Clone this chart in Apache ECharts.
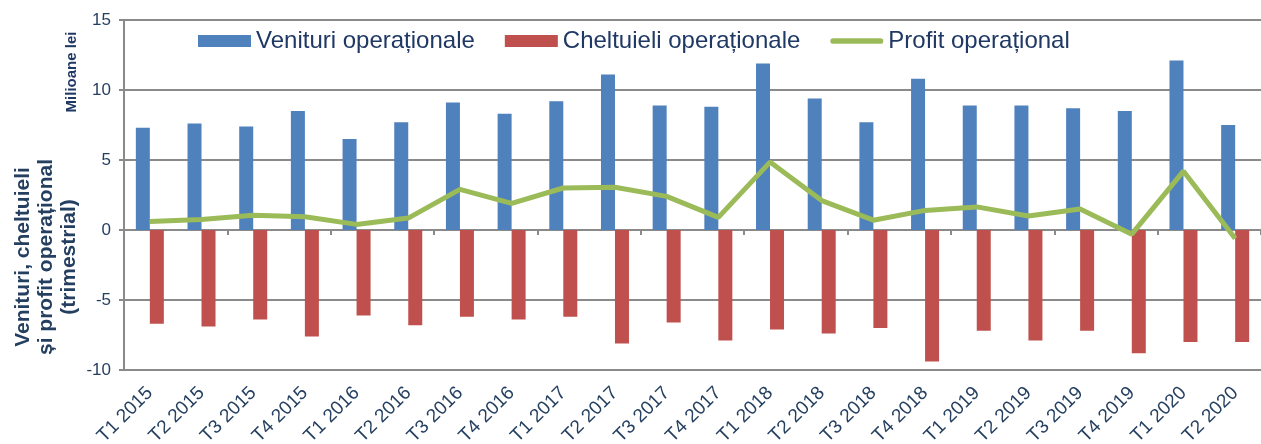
<!DOCTYPE html>
<html>
<head>
<meta charset="utf-8">
<script src="https://cdn.jsdelivr.net/npm/echarts@6/dist/echarts.min.js"></script>
<style>
  html, body { margin: 0; padding: 0; background: #fff; }
  #chart { width: 1261px; height: 444px; }
</style>
</head>
<body>
<div id="chart"></div>
<script>
// trimestre
const quarters = [
  'T1 2015', 'T2 2015', 'T3 2015', 'T4 2015',
  'T1 2016', 'T2 2016', 'T3 2016', 'T4 2016',
  'T1 2017', 'T2 2017', 'T3 2017', 'T4 2017',
  'T1 2018', 'T2 2018', 'T3 2018', 'T4 2018',
  'T1 2019', 'T2 2019', 'T3 2019', 'T4 2019',
  'T1 2020', 'T2 2020'
]
// milioane lei
const venituri = [7.3, 7.6, 7.4, 8.5, 6.5, 7.7, 9.1, 8.3, 9.2, 11.1, 8.9, 8.8, 11.9, 9.4, 7.7, 10.8, 8.9, 8.9, 8.7, 8.5, 12.1, 7.5]
const cheltuieli = [-6.7, -6.9, -6.4, -7.6, -6.1, -6.8, -6.2, -6.4, -6.2, -8.1, -6.6, -7.9, -7.1, -7.4, -7.0, -9.4, -7.2, -7.9, -7.2, -8.8, -8.0, -8.0]
const profit = [0.6, 0.75, 1.05, 0.95, 0.4, 0.85, 2.9, 1.9, 3.0, 3.05, 2.4, 0.9, 4.85, 2.1, 0.7, 1.4, 1.65, 1.0, 1.5, -0.3, 4.2, -0.6]
const yTicks = { min: -10, max: 15, step: 5 }

const navy = '#243F60'
const gridGray = '#8a8a8a'
const font = "'Liberation Sans', Arial, sans-serif"

const chart = echarts.init(document.getElementById('chart'))
chart.setOption({
  animation: false,
  textStyle: { fontFamily: font },
  grid: { left: 124, right: 0, top: 20, bottom: 74, outerBoundsMode: 'none', containLabel: false },
  legend: {
    left: 198, top: 29, padding: 0,
    itemWidth: 53, itemHeight: 12, itemGap: 30,
    textStyle: { fontSize: 24, color: '#1F3864', fontFamily: font },
    data: [
      { name: 'Venituri operaționale', icon: 'rect' },
      { name: 'Cheltuieli operaționale', icon: 'rect' },
      { name: 'Profit operațional', icon: 'path://M3,0 L53,0 A3,3 0 0 1 53,6 L3,6 A3,3 0 0 1 3,0 Z' }
    ]
  },
  graphic: [
    {
      type: 'text', x: 46, y: 257, rotation: Math.PI / 2,
      style: {
        text: 'Venituri, cheltuieli\nși profit operațional\n(trimestrial)',
        align: 'center', verticalAlign: 'middle',
        font: 'bold 21px ' + font, lineHeight: 23, fill: navy
      }
    },
    {
      type: 'text', x: 72, y: 72, rotation: Math.PI / 2,
      style: {
        text: 'Milioane lei', align: 'center', verticalAlign: 'middle',
        font: 'bold 15px ' + font, fill: '#1F3864'
      }
    }
  ],
  xAxis: [
    {
      type: 'category', data: quarters, position: 'bottom',
      axisLine: { onZero: true, lineStyle: { color: gridGray, width: 2 } },
      axisTick: { show: true, length: 5, lineStyle: { color: gridGray, width: 2 } },
      axisLabel: { show: false }
    },
    {
      type: 'category', data: quarters, position: 'bottom',
      axisLine: { onZero: false, lineStyle: { color: gridGray, width: 2 } },
      axisTick: { show: false },
      axisLabel: { rotate: 45, fontSize: 19, color: navy, margin: 20 }
    }
  ],
  yAxis: {
    type: 'value', min: yTicks.min, max: yTicks.max, interval: yTicks.step,
    axisLine: { show: true, lineStyle: { color: gridGray, width: 2 } },
    axisTick: { show: true, length: 5, lineStyle: { color: gridGray, width: 2 } },
    axisLabel: { fontSize: 17, color: navy, margin: 13 },
    splitLine: { lineStyle: { color: gridGray, width: 2 } }
  },
  series: [
    {
      name: 'Venituri operaționale', type: 'bar', xAxisIndex: 0,
      data: venituri, barWidth: 14, barGap: '0%',
      itemStyle: { color: '#4F81BD' }
    },
    {
      name: 'Cheltuieli operaționale', type: 'bar', xAxisIndex: 0,
      data: cheltuieli, barWidth: 14, barGap: '0%',
      itemStyle: { color: '#C0504D' }
    },
    {
      name: 'Profit operațional', type: 'line', xAxisIndex: 0,
      data: profit, symbol: 'none', z: 5,
      lineStyle: { color: '#9BBB59', width: 5 },
      itemStyle: { color: '#9BBB59' }
    }
  ]
})
</script>
</body>
</html>
